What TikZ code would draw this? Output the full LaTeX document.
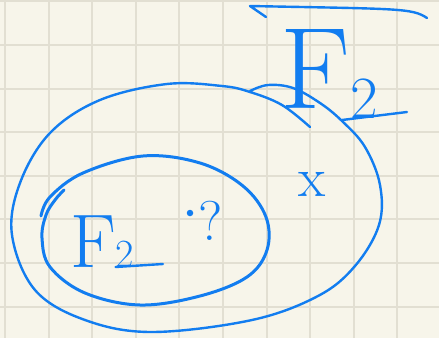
\documentclass[tikz,border=0pt]{standalone}
\usetikzlibrary{positioning}
\definecolor{ink}{RGB}{18,125,240}
\definecolor{paper}{RGB}{247,245,234}
\definecolor{rule}{RGB}{226,223,210}

\begin{document}
\begin{tikzpicture}[x=1pt, y=-1pt,
  pen/.style={draw=ink, line width=2.4pt, line cap=round, line join=round},
  heavy pen/.style={pen, line width=3pt},
  gridline/.style={draw=rule, line width=2pt},
  hand/.style={text=ink, inner sep=0pt}
]
  % paper with squares
  \fill[paper] (0,0) rectangle (439,338);
  \useasboundingbox (0,0) rectangle (439,338);
  \foreach \gx in {0,...,9}
    \draw[gridline] (5+43.6*\gx,0) -- (5+43.6*\gx,338);
  \foreach \gy in {0,...,7}
    \draw[gridline] (0,1.4+43.6*\gy) -- (439,1.4+43.6*\gy);

  % outer set
  \draw[pen] plot[smooth, tension=0.6] coordinates {(250,91) (268,85) (293,88) (320,103)
    (342,121) (365,147) (380,185) (379,225) (355,266) (318,296) (252,320) (152,332)
    (85,320) (35,290) (12,235) (20,183) (50,133) (100,100) (167,84) (222,86) (250,92)
    (282,105) (310,127)};

  % inner set
  \draw[heavy pen] plot[smooth, tension=0.6] coordinates {(41,216) (50,197) (83,173)
    (143,156) (200,163) (243,186) (266,217) (267,250) (247,277) (200,296) (140,305)
    (85,293) (50,267) (42,238) (46,215) (55,200) (64,190)};

  % labels
  \node[hand, anchor=base west, font=\fontsize{76}{76}\selectfont] (Fin) at (70,267)
    {F{\fontsize{40}{40}\selectfont 2}};
  \coordinate (tailin) at (163,264);
  \draw[pen] (Fin.base east) ++(-19,0) -- (tailin);

  \node[circle, fill=ink, inner sep=0pt, minimum size=6.5pt] (pt) at (190,213) {};
  \node[hand, anchor=base west, font=\fontsize{56}{56}\selectfont] (quest) at (198,240) {?};

  \node[hand, anchor=base, font=\fontsize{56}{56}\selectfont] (xpt) at (312,196) {x};

  \node[hand, anchor=base west, font=\fontsize{116}{116}\selectfont] (Fout) at (280,108)
    {F\raisebox{-10pt}{\fontsize{60}{60}\selectfont 2}};
  \coordinate (tailA) at (342,120);
  \coordinate (tailB) at (407,112);
  \draw[pen] (tailB) -- (tailA);

  % arrow on top
  \coordinate (arrS) at (427,18);
  \coordinate (arrE) at (250,6);
  \draw[pen] (arrS) .. controls (412,8) and (400,9) .. (arrE) -- ++(16,11);
\end{tikzpicture}
\end{document}
